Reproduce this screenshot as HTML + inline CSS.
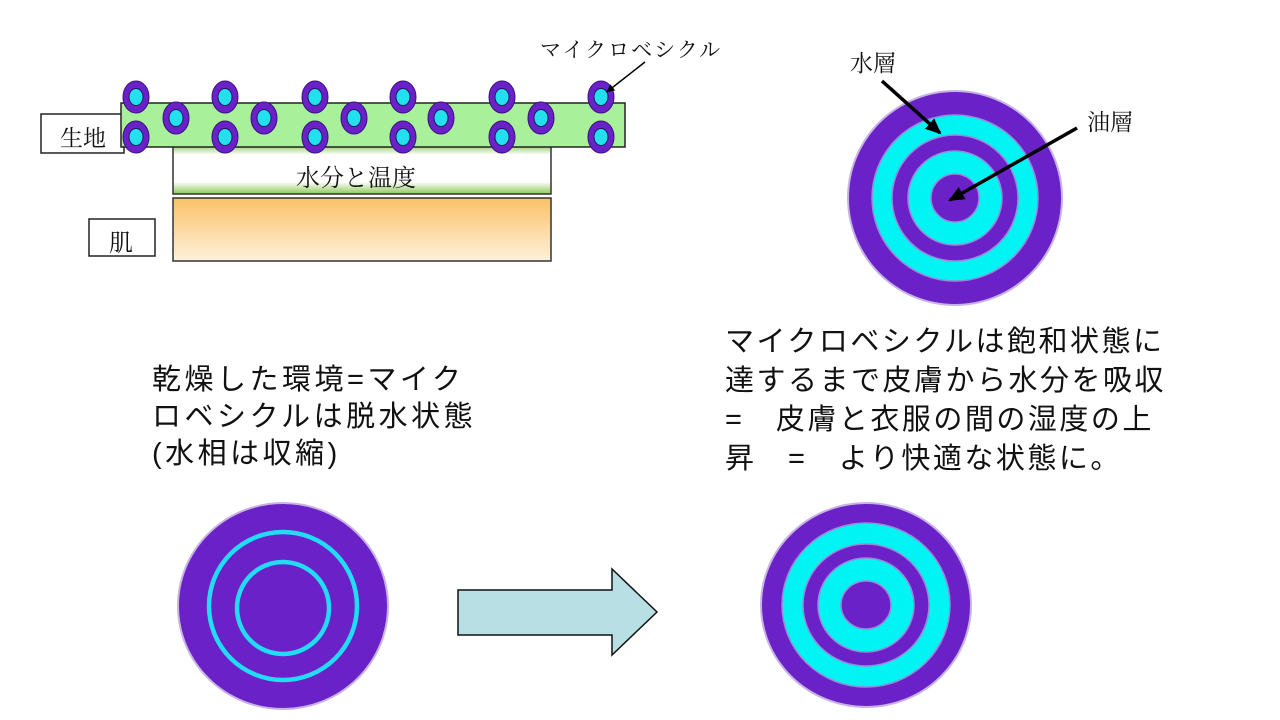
<!DOCTYPE html>
<html><head><meta charset="utf-8"><style>
body{margin:0;width:1280px;height:720px;background:#fff;position:relative;overflow:hidden;font-family:"Liberation Sans","Noto Sans CJK JP",sans-serif;}
.t{position:absolute;font-size:29px;color:#111;white-space:nowrap;}
.s{position:absolute;font-family:"Liberation Serif","Noto Serif CJK SC",serif;color:#111;white-space:nowrap;}
svg{position:absolute;left:0;top:0}
</style></head><body>
<svg width="1280" height="720" viewBox="0 0 1280 720">
<defs>
<linearGradient id="g1" x1="0" y1="0" x2="0" y2="1">
<stop offset="0" stop-color="#8fc95a"/><stop offset="0.2" stop-color="#fff"/><stop offset="0.75" stop-color="#fff"/><stop offset="1" stop-color="#8fc95a"/></linearGradient>
<linearGradient id="g2" x1="0" y1="0" x2="0" y2="1">
<stop offset="0" stop-color="#fbc168"/><stop offset="1" stop-color="#fdf1dc"/></linearGradient>
<marker id="ah" markerWidth="8" markerHeight="8" refX="6" refY="4" orient="auto" markerUnits="userSpaceOnUse"><path d="M0,0 L8,4 L0,8z" fill="#000"/></marker>
<marker id="ah2" markerWidth="16" markerHeight="14" refX="14" refY="7" orient="auto" markerUnits="userSpaceOnUse"><path d="M0,0 L16,7 L0,14z" fill="#000"/></marker>
<g id="ves"><ellipse rx="13" ry="16" fill="#6a22c8" stroke="#3a1080" stroke-width="1"/><ellipse rx="7" ry="8.5" fill="#22e0ee" stroke="#1a1a60" stroke-width="1"/></g>
</defs>
<rect x="41" y="114" width="83" height="39" fill="#fff" stroke="#222" stroke-width="1.5"/>
<rect x="173" y="145" width="378" height="49" fill="url(#g1)" stroke="#333" stroke-width="1.5"/>
<rect x="121" y="103" width="504" height="44" fill="#a8f09a" stroke="#222" stroke-width="1.5"/>
<rect x="89" y="219" width="66" height="37" fill="#fff" stroke="#222" stroke-width="1.5"/>
<rect x="173" y="198" width="378" height="63" fill="url(#g2)" stroke="#333" stroke-width="1.5"/>
<use href="#ves" x="136" y="97"/><use href="#ves" x="225" y="97"/><use href="#ves" x="315" y="97"/><use href="#ves" x="403" y="97"/><use href="#ves" x="502" y="97"/><use href="#ves" x="601" y="97"/>
<use href="#ves" x="136" y="137"/><use href="#ves" x="225" y="137"/><use href="#ves" x="315" y="137"/><use href="#ves" x="403" y="137"/><use href="#ves" x="502" y="137"/><use href="#ves" x="601" y="137"/>
<use href="#ves" x="176" y="118"/><use href="#ves" x="264" y="118"/><use href="#ves" x="354" y="118"/><use href="#ves" x="441" y="118"/><use href="#ves" x="541" y="118"/>
<line x1="645" y1="62" x2="608" y2="91" stroke="#000" stroke-width="1.5" marker-end="url(#ah)"/>
<g>
<circle cx="955" cy="198" r="107" fill="#6a22c8" stroke="#c8b4e4" stroke-width="2"/>
<circle cx="955" cy="198" r="83" fill="#00f4f4" stroke="#9a88d8" stroke-width="1.5"/>
<circle cx="955" cy="198" r="63" fill="#6a22c8" stroke="#9a88d8" stroke-width="1.5"/>
<circle cx="955" cy="198" r="47" fill="#00f4f4" stroke="#9a88d8" stroke-width="1.5"/>
<circle cx="955" cy="198" r="24" fill="#6a22c8" stroke="#9a88d8" stroke-width="1.5"/>
</g>
<line x1="882" y1="81" x2="940" y2="133" stroke="#000" stroke-width="3.5" marker-end="url(#ah2)"/>
<line x1="1077" y1="128" x2="950" y2="200" stroke="#000" stroke-width="3.5" marker-end="url(#ah2)"/>
<ellipse cx="283" cy="606" rx="105" ry="103" fill="#6a22c8" stroke="#c8b4e4" stroke-width="2"/>
<circle cx="283" cy="606" r="74" fill="none" stroke="#22dcf4" stroke-width="4.5"/>
<circle cx="283" cy="608" r="46" fill="none" stroke="#22dcf4" stroke-width="4.5"/>
<path d="M458,590 L612,590 L612,569 L657,612 L612,655 L612,635 L458,635 Z" fill="#b8e0e4" stroke="#111" stroke-width="1.5"/>
<g>
<ellipse cx="866" cy="605" rx="105" ry="102" fill="#6a22c8" stroke="#c8b4e4" stroke-width="2"/>
<ellipse cx="866" cy="605" rx="84" ry="82" fill="#00f4f4" stroke="#9a88d8" stroke-width="1.5"/>
<ellipse cx="866" cy="605" rx="63" ry="61" fill="#6a22c8" stroke="#9a88d8" stroke-width="1.5"/>
<ellipse cx="866" cy="605" rx="48" ry="47" fill="#00f4f4" stroke="#9a88d8" stroke-width="1.5"/>
<ellipse cx="866" cy="605" rx="25" ry="24" fill="#6a22c8" stroke="#9a88d8" stroke-width="1.5"/>
</g>
</svg>
<div class="s" style="left:540px;top:34px;font-size:21px;letter-spacing:2px;">マイクロベシクル</div>
<div class="s" style="left:60px;top:120px;font-size:23px;">生地</div>
<div class="s" style="left:296px;top:158px;font-size:24px;">水分と温度</div>
<div class="s" style="left:109px;top:223px;font-size:24px;">肌</div>
<div class="s" style="left:850px;top:45px;font-size:23px;">水層</div>
<div class="s" style="left:1087px;top:104px;font-size:23px;">油層</div>
<div class="t" style="left:152px;top:362px;line-height:37px;letter-spacing:3.5px;">乾燥した環境=マイク<br>ロベシクルは脱水状態<br>(水相は収縮)</div>
<div class="t" style="left:725px;top:323px;line-height:39px;letter-spacing:2.5px;">マイクロベシクルは飽和状態に<br>達するまで皮膚から水分を吸収<br>=　皮膚と衣服の間の湿度の上<br>昇　=　より快適な状態に。</div>
</body></html>
